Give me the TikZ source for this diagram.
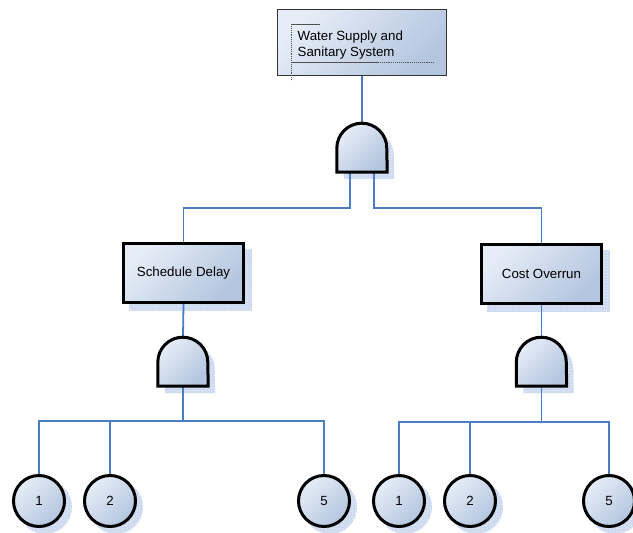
\documentclass[tikz,border=0pt]{standalone}
\usepackage{fontspec}
\setmainfont{Liberation Sans}
\usetikzlibrary{patterns,backgrounds,calc}

\definecolor{linkblue}{HTML}{4A7EC2}
\definecolor{fillA}{HTML}{E6EDF7}
\definecolor{fillB}{HTML}{B3C5DF}
\definecolor{shadowfill}{HTML}{CBD8EF}
\definecolor{shadowdots}{HTML}{F2F5FB}
\definecolor{framegray}{HTML}{505050}

% AND gate outline built on a named (invisible) node, with an optional offset
\newcommand\gateoutline[2]{([shift={#2}]#1.south west) -- ++(0,-24)
  arc[start angle=180,end angle=360,radius=25] -- ([shift={#2}]#1.south east) -- cycle}

\tikzset{
  conn/.style={draw=linkblue, line width=1.8pt},
  bluegrad/.style={top color=fillA, bottom color=fillB, shading angle=45},
  hatch/.style={preaction={fill=shadowfill}, pattern=crosshatch dots, pattern color=shadowdots},
  lbl/.style={font=\fontsize{13.3}{16}\selectfont},
  topevent/.style={rectangle, draw=black!80, line width=1.2pt, bluegrad,
    minimum width=169pt, minimum height=66pt, inner sep=0pt},
  event/.style={rectangle, draw=black, line width=3pt, bluegrad, lbl,
    minimum width=120pt, minimum height=59pt, inner sep=0pt},
  basic/.style={circle, draw=black, line width=3pt, bluegrad, lbl,
    minimum size=51pt, inner sep=0pt},
  gatebox/.style={rectangle, minimum width=50pt, minimum height=49pt, inner sep=0pt},
  gateline/.style={draw=black, line width=3pt, bluegrad},
}

\begin{document}
\begin{tikzpicture}[x=1pt,y=-1pt]
\useasboundingbox (0,0) rectangle (633,533);

% top event with its text frame
\node[topevent] (top) at (362,42.5) {};
\node[lbl, anchor=north west, align=left, inner sep=0pt] (title) at (297.5,31)
  {Water Supply and\\Sanitary System};
\draw[framegray, line width=0.9pt] (320,24) -- (291,24);
\draw[framegray, line width=0.9pt, densely dotted] (291,24) -- (291,81);
\draw[framegray, line width=0.9pt] (291,62) -- (378,62);
\draw[framegray, line width=0.9pt, densely dotted] (378,62) -- (434,62);

% gates
\node[gatebox] (g0) at (362,147.5) {};
\node[gatebox] (g1) at (183,361.5) {};
\node[gatebox] (g2) at (541.5,361.5) {};

% intermediate events
\node[event] (sd) at (183.5,273) {Schedule Delay};
\node[event] (co) at (541.5,273.5) {Cost Overrun};

% basic events
\node[basic] (a1) at (39,501) {1};
\node[basic] (a2) at (110,501) {2};
\node[basic] (a5) at (324,501) {5};
\node[basic] (b1) at (399,501) {1};
\node[basic] (b2) at (470,501) {2};
\node[basic] (b5) at (609,501) {5};

% junction levels
\coordinate (j0) at (362,208);
\coordinate (j1) at (183,421);
\coordinate (j2) at (541.5,422);

% drop shadows
\begin{scope}[on background layer]
  \foreach \n in {sd,co}
    \path[hatch] ([shift={(7,7)}]\n.south west) rectangle ([shift={(7,7)}]\n.north east);
  \foreach \n in {a1,a2,a5,b1,b2,b5}
    \path[hatch] ([shift={(6,6)}]\n.center) circle[radius=27];
  \foreach \n in {g0,g1,g2}
    \path[hatch] \gateoutline{\n}{(7,7)};
\end{scope}

% connectors
\draw[conn] (top.south) -- (g0.north);
\draw[conn] ([xshift=-12pt]g0.south) |- (sd.north |- j0) -- (sd.north);
\draw[conn] ([xshift=12pt]g0.south) |- (co.north |- j0) -- (co.north);
\draw[conn] (sd.south) -- (g1.north);
\draw[conn] (co.south) -- (g2.north);
\draw[conn] (g1.south) -- (j1);
\draw[conn] (a1.north) |- (a5.north |- j1) -- (a5.north);
\draw[conn] (a2.north) -- (a2.north |- j1);
\draw[conn] (g2.south) -- (j2);
\draw[conn] (b1.north) |- (b5.north |- j2) -- (b5.north);
\draw[conn] (b2.north) -- (b2.north |- j2);

% gate bodies
\foreach \n in {g0,g1,g2}
  \path[gateline] \gateoutline{\n}{(0,0)};
\end{tikzpicture}
\end{document}
